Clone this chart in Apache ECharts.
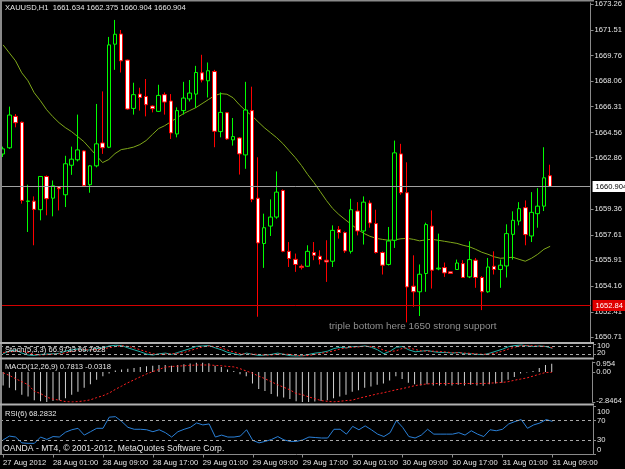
<!DOCTYPE html>
<html><head><meta charset="utf-8">
<script src="https://cdn.jsdelivr.net/npm/echarts@6/dist/echarts.min.js"></script>
<style>html,body{margin:0;padding:0;background:#000;}#c{width:625px;height:469px;}</style>
</head><body><div id="c"></div>
<script>
const symbolName = 'XAUUSD,H1';
const timeTickLabels = ['27 Aug 2012','28 Aug 01:00','28 Aug 09:00','28 Aug 17:00','29 Aug 01:00','29 Aug 09:00','29 Aug 17:00','30 Aug 01:00','30 Aug 09:00','30 Aug 17:00','31 Aug 01:00','31 Aug 09:00'];
const priceTicks = [1673.26,1671.51,1669.76,1668.06,1666.31,1664.56,1662.86,1659.36,1657.61,1655.91,1654.16,1652.41,1650.71];
const supportLevel = 1652.84;
const noteText = 'triple bottom here 1650 strong support';
const copyrightText = 'OANDA - MT4, \u00a9 2001-2012, MetaQuotes Software Corp.';

const opens  = [1663.10,1663.52,1665.65,1665.25,1659.89,1659.91,1659.33,1661.58,1660.11,1660.88,1660.34,1662.34,1662.71,1663.31,1661.02,1662.30,1663.85,1663.56,1670.54,1671.23,1669.46,1666.19,1667.16,1667.00,1666.35,1665.99,1667.12,1666.69,1664.46,1666.04,1666.83,1667.16,1668.60,1668.06,1668.69,1664.62,1665.90,1664.06,1664.19,1663.04,1666.04,1660.11,1657.04,1658.22,1658.83,1660.63,1656.51,1655.97,1655.50,1655.50,1656.43,1656.18,1655.91,1655.84,1657.98,1657.78,1656.51,1659.24,1657.89,1659.78,1658.39,1656.43,1655.62,1657.26,1663.11,1660.48,1654.15,1653.77,1655.01,1658.22,1655.32,1655.41,1655.12,1655.28,1655.68,1654.78,1655.91,1654.74,1653.77,1655.50,1655.28,1655.52,1657.66,1658.56,1659.47,1657.55,1659.06,1659.57,1661.634];
const highs  = [1663.60,1666.31,1665.81,1665.30,1661.02,1660.23,1661.60,1661.65,1661.31,1660.90,1662.98,1663.60,1665.77,1663.35,1662.35,1666.49,1667.34,1671.03,1672.18,1671.50,1669.50,1667.93,1667.59,1668.18,1666.40,1667.79,1667.27,1667.16,1666.26,1667.99,1668.11,1669.07,1669.82,1669.30,1668.80,1667.27,1665.95,1665.54,1664.25,1667.99,1667.66,1662.88,1659.06,1660.03,1661.92,1660.70,1657.14,1656.36,1655.62,1656.92,1657.14,1656.58,1657.26,1658.27,1658.22,1657.85,1660.07,1659.84,1660.23,1659.96,1659.33,1656.50,1658.16,1664.01,1663.79,1662.54,1656.24,1655.62,1658.45,1659.28,1657.71,1655.75,1655.15,1655.95,1655.91,1657.19,1656.06,1654.83,1656.06,1656.51,1655.95,1658.34,1659.22,1659.84,1659.96,1660.52,1660.79,1663.56,1662.375];
const lows   = [1662.90,1663.45,1664.91,1659.74,1657.82,1656.92,1658.61,1658.95,1658.88,1659.28,1659.51,1661.69,1662.60,1660.90,1660.48,1662.20,1663.11,1663.50,1668.80,1668.62,1666.10,1665.77,1666.04,1665.65,1665.92,1665.95,1665.77,1664.12,1664.23,1665.77,1666.66,1666.22,1667.95,1666.93,1663.56,1664.23,1664.05,1663.67,1661.71,1662.10,1659.84,1652.08,1655.39,1657.55,1658.72,1656.45,1655.45,1655.12,1655.28,1655.45,1655.91,1655.62,1654.44,1655.45,1657.37,1656.40,1656.36,1657.59,1656.97,1658.11,1656.36,1654.94,1655.55,1656.74,1660.34,1651.70,1652.75,1652.13,1653.77,1653.99,1655.23,1654.78,1654.98,1655.25,1654.70,1654.70,1654.04,1652.53,1653.70,1654.94,1654.04,1654.74,1655.95,1658.27,1656.92,1657.14,1658.11,1659.24,1660.904];
const closes = [1663.45,1665.74,1665.22,1659.96,1659.92,1659.35,1661.58,1660.07,1660.95,1660.75,1662.44,1662.75,1663.38,1660.97,1662.30,1663.79,1663.52,1670.49,1671.21,1669.41,1666.15,1667.12,1666.93,1666.44,1666.17,1667.07,1666.62,1664.53,1666.04,1666.89,1667.23,1668.62,1668.11,1668.74,1664.64,1665.92,1664.12,1664.28,1663.11,1666.08,1660.03,1657.08,1658.11,1658.83,1660.52,1656.51,1656.02,1655.62,1655.41,1656.51,1656.24,1655.95,1655.79,1657.93,1657.78,1656.54,1659.33,1657.89,1659.84,1658.43,1656.43,1655.57,1657.21,1663.18,1660.48,1654.10,1653.77,1654.96,1658.32,1655.23,1655.37,1655.05,1655.01,1655.72,1654.74,1655.95,1654.74,1653.77,1655.45,1655.28,1655.57,1657.71,1658.61,1659.40,1657.64,1659.15,1659.57,1661.49,1660.904];
const movingAvg = [1670.49,1669.95,1669.41,1668.60,1668.06,1667.25,1666.71,1666.10,1665.63,1665.22,1664.89,1664.62,1664.28,1663.94,1663.47,1663.00,1662.52,1662.73,1663.13,1663.40,1663.47,1663.57,1663.74,1664.01,1664.42,1664.82,1665.02,1665.29,1665.56,1665.83,1666.04,1666.24,1666.51,1666.78,1667.05,1667.19,1667.15,1666.91,1666.44,1666.04,1665.70,1665.29,1664.89,1664.55,1664.21,1663.81,1663.33,1662.86,1662.32,1661.71,1661.17,1660.57,1659.96,1659.42,1659.01,1658.67,1658.34,1658.00,1657.73,1657.53,1657.39,1657.32,1657.26,1657.29,1657.36,1657.39,1657.32,1657.22,1657.29,1657.32,1657.26,1657.19,1657.12,1657.05,1656.92,1656.82,1656.65,1656.45,1656.31,1656.14,1656.04,1656.07,1656.11,1655.97,1655.84,1656.04,1656.31,1656.65,1656.85];
const stochK = [25,45,55,30,15,12,20,22,25,28,45,55,62,50,55,65,70,85,90,88,70,55,40,22,15,25,30,20,35,50,65,82,85,88,70,55,35,25,15,30,20,12,15,20,30,20,10,8,10,20,30,35,45,65,75,70,80,80,85,75,55,25,45,75,80,55,40,45,50,40,35,35,30,35,25,25,20,18,30,45,60,80,88,92,85,80,85,80,66.9733];
const stochD = [35,38,45,45,35,20,15,18,22,25,32,42,53,55,55,57,62,72,80,87,82,70,55,40,25,20,23,25,28,35,50,65,78,85,80,70,52,38,25,22,22,20,15,15,22,22,20,12,10,12,20,28,37,48,62,70,75,78,82,80,72,52,42,48,67,70,58,47,45,45,42,38,33,33,30,28,23,21,22,31,45,62,76,87,88,86,83,82,69.7628];
const macdMain = [-1.27,-1.50,-1.72,-2.15,-2.32,-2.67,-2.78,-2.84,-2.74,-2.67,-2.50,-2.15,-1.87,-1.50,-1.16,-0.74,-0.39,-0.15,0.14,0.25,0.32,0.39,0.49,0.56,0.60,0.67,0.67,0.60,0.67,0.74,0.81,0.88,0.88,0.84,0.60,0.49,0.25,0.10,-0.21,-0.39,-1.09,-1.62,-1.80,-2.08,-2.32,-2.43,-2.57,-2.78,-2.84,-2.8464,-2.80,-2.76,-2.67,-2.50,-2.32,-2.15,-1.87,-1.72,-1.50,-1.37,-1.20,-1.09,-0.81,-0.39,-0.67,-1.02,-1.16,-1.27,-1.16,-1.27,-1.27,-1.27,-1.27,-1.20,-1.27,-1.20,-1.27,-1.30,-1.16,-1.09,-1.02,-0.74,-0.46,-0.15,-0.05,0.10,0.39,0.67,0.7813];
const macdSignal = [-0.07,-0.32,-0.63,-0.92,-1.20,-1.83,-2.04,-2.39,-2.57,-2.67,-2.81,-2.85,-2.81,-2.74,-2.64,-2.43,-2.25,-2.00,-1.65,-1.34,-1.02,-0.74,-0.46,-0.18,0.03,0.25,0.46,0.53,0.56,0.60,0.63,0.67,0.67,0.67,0.63,0.60,0.53,0.49,0.32,0.10,-0.11,-0.39,-0.63,-0.92,-1.20,-1.44,-1.69,-2.04,-2.15,-2.36,-2.53,-2.71,-2.78,-2.84,-2.78,-2.71,-2.67,-2.50,-2.36,-2.22,-2.08,-1.97,-1.83,-1.69,-1.58,-1.44,-1.30,-1.20,-1.13,-1.09,-1.09,-1.09,-1.09,-1.09,-1.09,-1.09,-1.09,-1.09,-1.06,-1.02,-0.99,-0.92,-0.78,-0.67,-0.56,-0.39,-0.21,-0.04,-0.0318];
const rsi6 = [30,38,36,24,23,23,36,31,37,36,46,51,54,40,47,54,54,77,78,68,56,52,52,51,47,51,45,36,47,52,56,65,61,63,36,40,36,36,38,51,29,24,27,31,37,30,27,27,30,36,35,34,34,52,52,42,58,51,59,51,42,37,45,70,56,37,34,40,52,42,42,42,42,45,40,49,42,37,51,49,52,63,68,72,54,61,65,72,68.2832];
const stochLevels = [80, 20];
const rsiLevels = [70, 30];
const stochTicks = [100, 80, 20];
const macdTicks = [0.954, 0, -2.8464];
const rsiTicks = [100, 70, 30, 0];

const N = opens.length;
const PAD = 6;
const last = N - 1;
const cats = [];
for (let i = 0; i < N + PAD; i++) cats.push(String(i));
const candleData = opens.map((o, i) => [o, closes[i], lows[i], highs[i]]);

const FONT = '"Liberation Sans",Arial,sans-serif';
const FS = 7.6;
const TXT = '#e6e6e6';
const FRAME = '#8a8a8a';

const grids = [
  {left: 0, top: 2, width: 593, height: 340},
  {left: 0, top: 344, width: 593, height: 13},
  {left: 0, top: 362, width: 593, height: 40},
  {left: 0, top: 406, width: 593, height: 48.5}
];
const xAxes = grids.map((g, gi) => ({
  type: 'category', gridIndex: gi, data: cats, boundaryGap: true,
  axisLine: {show: gi === 3, lineStyle: {color: FRAME, width: 1}},
  axisTick: {show: gi === 3, alignWithLabel: true, length: 3, interval: (idx) => idx % 8 === 0, lineStyle: {color: FRAME}},
  axisLabel: {show: gi === 3, interval: (idx) => idx % 8 === 0, align: 'left', margin: 4,
    showMinLabel: true, showMaxLabel: true, hideOverlap: false,
    formatter: (v, idx) => (timeTickLabels[Math.round(Number(v) / 8)] || ''),
    color: TXT, fontFamily: FONT, fontSize: FS},
  splitLine: {show: false}
}));
const richBase = {color: TXT, fontFamily: FONT, fontSize: FS};
function yAx(gi, min, max, ticks, fmt) {
  return {
    type: 'value', gridIndex: gi, position: 'right', min: min, max: max, scale: true,
    axisLine: {show: true, onZero: false, lineStyle: {color: FRAME, width: 1}},
    axisTick: {show: true, inside: false, length: 3, customValues: ticks, lineStyle: {color: FRAME}},
    axisLabel: {show: true, customValues: ticks, margin: 4, color: TXT, fontFamily: FONT, fontSize: FS,
      showMinLabel: true, showMaxLabel: true, hideOverlap: false,
      formatter: fmt,
      rich: {dn: Object.assign({padding: [11, 0, 0, 0]}, richBase),
             up: Object.assign({padding: [0, 0, 9, 0]}, richBase),
             dn2: Object.assign({padding: [3, 0, 0, 0]}, richBase),
             up2: Object.assign({padding: [0, 0, 3, 0]}, richBase)}},
    splitLine: {show: false}
  };
}
const yAxes = [
  yAx(0, 1650.37, 1673.33, priceTicks, (v) => v.toFixed(2)),
  yAx(1, 0, 100, stochTicks, (v) => v === 100 ? '{dn2|100}' : (v === 20 ? '{up2|20}' : String(v))),
  yAx(2, -2.8464, 0.954, macdTicks, (v) => v > 0.5 ? '{dn2|' + v.toFixed(3) + '}' : (v < -2 ? '{up2|' + v.toFixed(4) + '}' : '0.00')),
  yAx(3, 0, 100, rsiTicks, (v) => v === 100 ? '{dn|100}' : (v === 0 ? '{up|0}' : String(v)))
];

const levelLine = (vals) => ({
  silent: true, symbol: 'none', animation: false,
  lineStyle: {color: '#a8a8a8', type: [3, 3], width: 1},
  label: {show: false},
  data: vals.map(v => ({yAxis: v}))
});

const series = [
  {
    type: 'candlestick', xAxisIndex: 0, yAxisIndex: 0, data: candleData, barWidth: 4,
    itemStyle: {color: '#000000', color0: '#ffffff', borderColor: '#00ff00', borderColor0: '#ff0000', borderWidth: 1},
    markLine: {
      silent: true, symbol: 'none', animation: false,
      data: [
        {yAxis: closes[last], lineStyle: {color: '#a0a0a0', width: 1, type: 'solid'},
         label: {show: true, position: 'end', distance: 2, formatter: closes[last].toFixed(3), color: '#000', backgroundColor: '#ffffff', padding: [2, 4, 1, 3], fontFamily: FONT, fontSize: FS}},
        {yAxis: supportLevel, lineStyle: {color: '#d40000', width: 1, type: 'solid'},
         label: {show: true, position: 'end', distance: 2, formatter: supportLevel.toFixed(2), color: '#ffffff', backgroundColor: '#e00000', padding: [2, 8, 1, 3], fontFamily: FONT, fontSize: FS}}
      ]
    }
  },
  {type: 'line', xAxisIndex: 0, yAxisIndex: 0, data: movingAvg, showSymbol: false, symbol: 'none',
   lineStyle: {color: '#7fa81a', width: 1}, z: 1},
  {type: 'line', xAxisIndex: 1, yAxisIndex: 1, data: stochK, showSymbol: false, symbol: 'none',
   lineStyle: {color: '#20b2aa', width: 1}, markLine: levelLine(stochLevels)},
  {type: 'line', xAxisIndex: 1, yAxisIndex: 1, data: stochD, showSymbol: false, symbol: 'none',
   lineStyle: {color: '#ff2020', width: 1, type: [2, 2]}},
  {type: 'bar', xAxisIndex: 2, yAxisIndex: 2, data: macdMain, barWidth: 1,
   itemStyle: {color: '#d0d0d0'}},
  {type: 'line', xAxisIndex: 2, yAxisIndex: 2, data: macdSignal, showSymbol: false, symbol: 'none',
   lineStyle: {color: '#ff2020', width: 1, type: [2, 2]}},
  {type: 'line', xAxisIndex: 3, yAxisIndex: 3, data: rsi6, showSymbol: false, symbol: 'none',
   lineStyle: {color: '#2a80d8', width: 1}, markLine: levelLine(rsiLevels)}
];

const hdr = symbolName + '  ' + opens[last].toFixed(3) + ' ' + highs[last].toFixed(3) + ' ' + lows[last].toFixed(3) + ' ' + closes[last].toFixed(3);
const stochTxt = 'Stoch(5,3,3) ' + stochK[last].toFixed(4) + ' ' + stochD[last].toFixed(4);
const macdTxt = 'MACD(12,26,9) ' + macdMain[last].toFixed(4) + ' ' + macdSignal[last].toFixed(4);
const rsiTxt = 'RSI(6) ' + rsi6[last].toFixed(4);

const txt = (x, y, s, extra) => ({type: 'text', x: x, y: y, z: 100, silent: true,
  style: Object.assign({text: s, fill: TXT, font: FS + 'px ' + FONT, textVerticalAlign: 'middle'}, extra || {})});
const rect = (x, y, w, h, c) => ({type: 'rect', shape: {x: x, y: y, width: w, height: h}, style: {fill: c}, silent: true, z: 50});

const graphic = [
  rect(0, 0, 594, 1.5, FRAME),
  rect(0, 0, 2, 455, FRAME),
  rect(0, 342, 594, 2, '#b0b0b0'),
  rect(0, 357.5, 594, 2, '#b0b0b0'),
  rect(0, 403.5, 594, 2, '#b0b0b0'),
  txt(5, 8, hdr),
  txt(329, 326, noteText, {fill: '#909090', font: '9.9px ' + FONT}),
  txt(5, 350, stochTxt),
  txt(5, 367, macdTxt),
  txt(5, 414, rsiTxt),
  txt(3, 449, copyrightText, {font: '8.6px ' + FONT})
];

const chart = echarts.init(document.getElementById('c'));
chart.setOption({
  backgroundColor: '#000000',
  animation: false,
  grid: grids,
  xAxis: xAxes,
  yAxis: yAxes,
  series: series,
  graphic: graphic
});
</script>
</body></html>
